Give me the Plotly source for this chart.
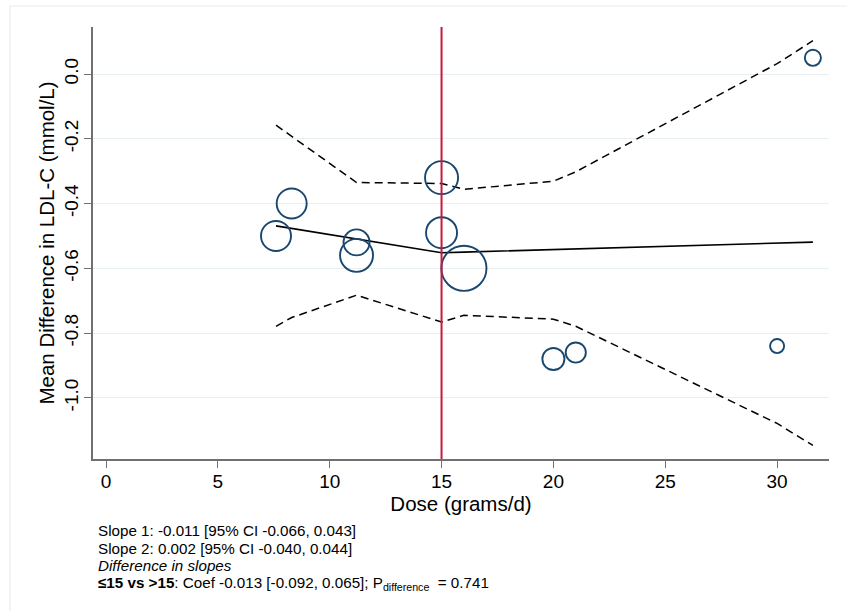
import plotly.graph_objects as go

# Study-level estimates: dose (g/d), mean difference in LDL-C (mmol/L), relative weight (%)
dose = [7.6, 8.3, 11.2, 11.2, 15.0, 15.0, 16.0, 20.0, 21.0, 30.0, 31.6]
mean_diff = [-0.50, -0.40, -0.52, -0.56, -0.32, -0.49, -0.60, -0.88, -0.86, -0.84, 0.05]
weight = [10.0, 10.0, 7.5, 12.1, 12.1, 10.7, 22.6, 5.4, 4.5, 2.2, 2.9]

# Piecewise-linear (knot at 15 g/d) fitted line and 95% confidence band
fit_dose = [7.6, 8.3, 11.2, 15.0, 16.0, 20.0, 21.0, 30.0, 31.6]
fit_pred = [-0.469, -0.477, -0.509, -0.552, -0.550, -0.542, -0.540, -0.522, -0.519]
fit_lower = [-0.779, -0.752, -0.683, -0.766, -0.745, -0.757, -0.779, -1.079, -1.147]
fit_upper = [-0.158, -0.192, -0.335, -0.338, -0.356, -0.331, -0.302, 0.032, 0.103]

knot = 15.0

x_ticks = [0, 5, 10, 15, 20, 25, 30]
y_ticks = [0.0, -0.2, -0.4, -0.6, -0.8, -1.0]

notes = [
    "Slope 1: -0.011 [95% CI -0.066, 0.043]",
    "Slope 2: 0.002 [95% CI -0.040, 0.044]",
    "<i>Difference in slopes</i>",
    "<b>≤15 vs &gt;15</b>: Coef -0.013 [-0.092, 0.065]; P<sub>difference</sub>  = 0.741",
]

FONT = "Liberation Sans, Arial, Helvetica, sans-serif"
NAVY = "#1a476f"
AXIS_GRAY = "#707070"

fig = go.Figure()

fig.add_trace(go.Scatter(
    x=fit_dose, y=fit_upper, mode="lines",
    line=dict(color="black", width=1.5, dash="8px,5px"),
    hoverinfo="skip", showlegend=False,
))
fig.add_trace(go.Scatter(
    x=fit_dose, y=fit_lower, mode="lines",
    line=dict(color="black", width=1.5, dash="8px,5px"),
    hoverinfo="skip", showlegend=False,
))
fig.add_trace(go.Scatter(
    x=fit_dose, y=fit_pred, mode="lines",
    line=dict(color="black", width=1.6),
    showlegend=False,
))
# Study markers, area proportional to weight
fig.add_trace(go.Scatter(
    x=dose, y=mean_diff, mode="markers",
    marker=dict(
        symbol="circle-open", size=weight, sizemode="area", sizeref=0.0222,
        color=NAVY, opacity=1, line=dict(color=NAVY, width=1.9),
    ),
    showlegend=False,
))

# Knot marker
fig.add_shape(
    type="line", xref="x", yref="paper", x0=knot, x1=knot, y0=0, y1=1,
    line=dict(color="#c8183c", width=2),
)

# Light outer frame
fig.add_shape(
    type="rect", xref="paper", yref="paper",
    x0=-0.1128, x1=1.5, y0=-1.0, y1=1.0486,
    line=dict(color="#e6eef2", width=1.2), fillcolor="rgba(0,0,0,0)", layer="below",
)

note_y = [530.6, 548.2, 565.8, 583.4]
for txt, py in zip(notes, note_y):
    fig.add_annotation(
        text=txt, xref="paper", yref="paper",
        x=(96 - 93) / 736, y=(459 - py) / 432,
        xanchor="left", yanchor="middle", showarrow=False,
        font=dict(family=FONT, size=15.2, color="black"),
    )

fig.update_layout(
    width=847, height=611,
    margin=dict(l=93, r=18, t=27, b=152),
    paper_bgcolor="white", plot_bgcolor="white",
    font=dict(family=FONT, color="black"),
    showlegend=False,
)

fig.update_xaxes(
    range=[-0.581, 32.32],
    tickvals=x_ticks, ticktext=[str(v) for v in x_ticks],
    ticks="outside", ticklen=7, tickwidth=1.3, tickcolor=AXIS_GRAY,
    ticklabelstandoff=-3,
    showline=True, linecolor=AXIS_GRAY, linewidth=1.6,
    showgrid=False, zeroline=False,
    tickfont=dict(family=FONT, size=19, color="black"),
    title=dict(text="Dose (grams/d)", font=dict(family=FONT, size=20.5, color="black"), standoff=4),
)
fig.update_yaxes(
    range=[-1.1888, 0.1452],
    tickvals=y_ticks, ticktext=[f"{v:.1f}" for v in y_ticks],
    tickangle=-90,
    ticks="outside", ticklen=7, tickwidth=1.3, tickcolor=AXIS_GRAY,
    ticklabelstandoff=-1,
    showline=True, linecolor=AXIS_GRAY, linewidth=1.6,
    showgrid=True, gridcolor="#e8eff2", gridwidth=1.2,
    zeroline=False,
    tickfont=dict(family=FONT, size=19, color="black"),
    title=dict(text="Mean Difference in LDL-C (mmol/L)", font=dict(family=FONT, size=20.5, color="black"), standoff=0),
)

fig.write_html("out.html")
